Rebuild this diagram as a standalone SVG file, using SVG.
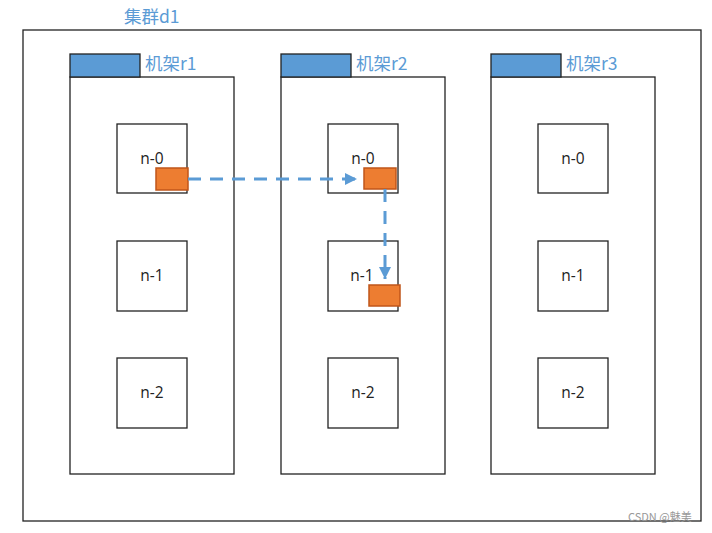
<svg xmlns="http://www.w3.org/2000/svg" width="712" height="533" viewBox="0 0 712 533">
<defs>
<style>
.box{fill:#fff;stroke:#222;stroke-width:1.3}
.tab{fill:#5B9BD5;stroke:#222;stroke-width:1.3}
.lbl{font-family:"Noto Sans CJK SC","Liberation Sans",sans-serif;fill:#5B9BD5;font-size:17.5px}
.nt{font-family:"Open Sans","Liberation Sans",sans-serif;fill:#222;font-size:15.5px;text-anchor:middle}
.blk{fill:#ED7D31;stroke:#C0561A;stroke-width:1.5}
.dash{fill:none;stroke:#5B9BD5;stroke-width:3;stroke-dasharray:13,9}
</style>
<marker id="ah" viewBox="0 0 10 10" refX="10" refY="5" markerWidth="4" markerHeight="4" markerUnits="strokeWidth" orient="auto">
<path d="M0,0 L10,5 L0,10 z" fill="#5B9BD5"/>
</marker>
</defs>
<rect width="712" height="533" fill="#fff"/>
<g id="cluster">
<rect class="box" x="23" y="30" width="678" height="491"/>
<text class="lbl" x="124" y="23">集群d1</text>
</g>
<g id="rack-r1">
<rect class="box" x="70" y="77" width="164" height="397"/>
<rect class="tab" x="70" y="54" width="70" height="23"/>
<text class="lbl" x="145" y="70">机架r1</text>
</g>
<g id="rack-r2">
<rect class="box" x="281" y="77" width="164" height="397"/>
<rect class="tab" x="281" y="54" width="70" height="23"/>
<text class="lbl" x="356" y="70">机架r2</text>
</g>
<g id="rack-r3">
<rect class="box" x="491" y="77" width="164" height="397"/>
<rect class="tab" x="491" y="54" width="70" height="23"/>
<text class="lbl" x="566" y="70">机架r3</text>
</g>
<g id="r1-n0"><rect class="box" x="117" y="124" width="70" height="69"/><text class="nt" x="152" y="164">n-0</text></g>
<g id="r1-n1"><rect class="box" x="117" y="241" width="70" height="70"/><text class="nt" x="152" y="281">n-1</text></g>
<g id="r1-n2"><rect class="box" x="117" y="358" width="70" height="70"/><text class="nt" x="152" y="398">n-2</text></g>
<g id="r2-n0"><rect class="box" x="328" y="124" width="70" height="69"/><text class="nt" x="363" y="164">n-0</text></g>
<g id="r2-n1"><rect class="box" x="328" y="241" width="70" height="70"/><text class="nt" x="362" y="281">n-1</text></g>
<g id="r2-n2"><rect class="box" x="328" y="358" width="70" height="70"/><text class="nt" x="363" y="398">n-2</text></g>
<g id="r3-n0"><rect class="box" x="538" y="124" width="70" height="69"/><text class="nt" x="573" y="164">n-0</text></g>
<g id="r3-n1"><rect class="box" x="538" y="241" width="70" height="70"/><text class="nt" x="573" y="281">n-1</text></g>
<g id="r3-n2"><rect class="box" x="538" y="358" width="70" height="70"/><text class="nt" x="573" y="398">n-2</text></g>
<g id="blocks">
<rect class="blk" x="156" y="168" width="32" height="22"/>
<rect class="blk" x="364" y="168" width="32" height="21"/>
<rect class="blk" x="369" y="285" width="31" height="21"/>
</g>
<g id="connectors">
<path class="dash" d="M188,179 H357" marker-end="url(#ah)"/>
<path class="dash" d="M385,189 V279" marker-end="url(#ah)"/>
</g>
<text x="628" y="521" font-family="Noto Sans CJK SC,Liberation Sans,sans-serif" font-size="11" fill="#999">CSDN @魅美</text>
</svg>
